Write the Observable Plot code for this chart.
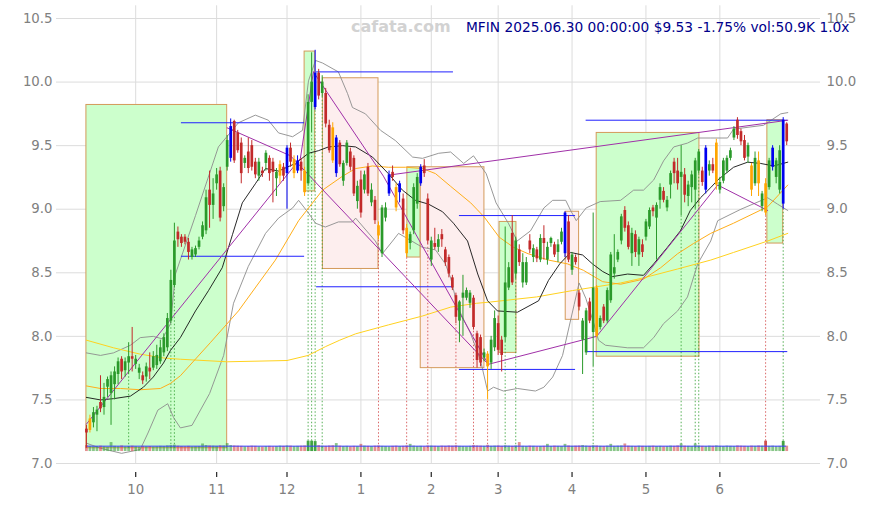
<!DOCTYPE html>
<html><head><meta charset="utf-8">
<script src="https://cdn.jsdelivr.net/npm/d3@7"></script>
<script src="https://cdn.jsdelivr.net/npm/@observablehq/plot@0.6"></script>
<style>
body{margin:0;background:#fff;}
#wrap{width:875px;height:505px;}
svg{font-family:"DejaVu Sans",sans-serif;}
</style></head><body><div id="wrap"></div>
<script>
// ---- candles (trading-day index 0 = 2024-09-11 ... 199 = 2025-06-30)
const OPEN=[7.27,7.26,7.32,7.38,7.48,7.44,7.60,7.55,7.62,7.70,7.82,7.73,7.79,7.84,7.78,7.71,7.69,7.68,7.75,7.75,
7.77,7.80,7.87,7.91,8.12,8.40,8.82,8.78,8.78,8.74,8.62,8.64,8.70,8.78,8.83,9.15,9.03,9.20,9.30,9.02,
9.33,9.40,9.69,9.60,9.52,9.36,9.45,9.50,9.37,9.26,9.30,9.36,9.40,9.37,9.24,9.26,9.33,9.28,9.48,9.28,
9.30,9.37,9.30,9.20,9.84,9.80,10.07,9.91,9.91,9.66,9.64,9.28,9.52,9.22,9.36,9.45,9.40,9.06,9.23,9.15,
9.33,9.05,9.07,8.87,8.65,8.93,9.12,9.29,9.17,9.13,9.08,8.85,8.73,8.83,9.04,9.20,9.34,9.08,8.60,8.73,
8.70,8.80,8.68,8.62,8.46,8.32,8.12,8.30,8.30,8.26,8.30,8.02,7.99,7.83,7.86,7.79,7.91,8.10,7.97,7.99,
8.38,8.81,8.49,8.68,8.42,8.42,8.75,8.62,8.68,8.60,8.77,8.60,8.73,8.72,8.66,8.74,8.65,8.90,8.52,8.62,
8.34,7.97,7.87,8.27,8.03,8.38,8.07,8.23,8.12,8.28,8.49,8.60,8.75,8.99,8.87,8.65,8.80,8.64,8.72,8.78,
8.86,9.01,8.93,9.07,9.14,9.01,9.19,9.37,9.30,9.25,9.27,9.10,9.17,9.15,9.30,9.30,9.15,9.30,9.35,9.19,
9.15,9.22,9.30,9.40,9.56,9.70,9.61,9.54,9.41,9.34,9.20,9.38,9.02,9.20,9.17,9.33,9.25,9.15,9.04,9.67];
const HIGH=[7.30,7.38,7.44,7.45,7.69,7.63,7.68,7.72,7.76,7.83,7.84,7.83,7.95,8.07,7.85,7.78,7.72,7.79,7.87,7.88,
7.93,7.97,8.02,8.18,8.52,8.89,8.86,8.80,8.80,8.77,8.70,8.71,8.78,8.90,9.15,9.30,9.24,9.32,9.33,9.20,
9.58,9.71,9.70,9.62,9.56,9.42,9.56,9.54,9.40,9.40,9.33,9.46,9.42,9.40,9.32,9.38,9.36,9.50,9.52,9.42,
9.42,9.40,9.33,9.90,10.23,10.25,10.10,10.05,9.95,9.70,9.68,9.58,9.54,9.38,9.54,9.48,9.42,9.22,9.30,9.30,
9.36,9.20,9.10,8.90,9.03,9.05,9.30,9.34,9.20,9.22,9.12,8.88,8.82,9.20,9.28,9.35,9.39,9.12,8.78,8.85,
8.80,8.84,8.70,8.64,8.48,8.34,8.28,8.48,8.38,8.36,8.32,8.04,8.01,7.90,7.88,8.00,8.20,8.16,8.00,8.86,
8.58,8.95,8.78,8.72,8.65,8.62,8.80,8.72,8.70,8.80,8.87,8.74,8.78,8.74,8.76,8.85,8.98,8.95,8.66,8.64,
8.36,8.14,8.22,8.30,8.97,8.40,8.16,8.25,8.38,8.66,8.80,8.68,8.96,9.02,8.90,8.85,8.83,8.78,8.76,8.92,
9.01,9.03,9.05,9.20,9.17,9.10,9.30,9.40,9.40,9.50,9.32,9.22,9.30,9.40,9.47,9.33,9.50,9.38,9.40,9.55,
9.25,9.40,9.42,9.48,9.65,9.72,9.63,9.58,9.52,9.36,9.45,9.45,9.14,9.24,9.40,9.50,9.40,9.50,9.72,9.68];
const LOW=[7.12,7.24,7.28,7.25,7.40,7.38,7.52,7.30,7.50,7.62,7.66,7.68,7.70,7.72,7.74,7.66,7.62,7.64,7.66,7.73,
7.74,7.78,7.84,7.88,8.10,8.38,8.70,8.70,8.72,8.60,8.60,8.62,8.68,8.76,8.80,8.85,8.92,9.15,8.90,8.98,
9.30,9.37,9.36,9.44,9.20,9.32,9.28,9.30,9.24,9.22,9.25,9.30,9.22,9.05,9.10,9.20,9.22,9.00,9.33,9.24,
9.28,9.22,9.10,9.18,9.60,9.78,9.86,9.88,9.64,9.44,9.36,9.25,9.33,9.18,9.34,9.30,9.10,9.00,8.93,9.12,
9.10,9.02,8.88,8.76,8.62,8.90,9.10,9.22,8.98,9.05,8.80,8.62,8.68,8.80,9.00,9.18,9.25,8.72,8.55,8.68,
8.66,8.70,8.55,8.46,8.36,8.10,7.95,8.00,8.28,8.22,8.05,7.75,7.76,7.80,7.50,7.74,7.88,7.85,7.72,7.95,
8.36,8.40,8.45,8.55,8.38,8.40,8.65,8.58,8.58,8.58,8.60,8.56,8.70,8.62,8.58,8.72,8.62,8.58,8.48,8.56,
8.20,7.70,7.85,8.10,7.76,7.99,8.05,8.10,8.10,8.26,8.45,8.58,8.72,8.82,8.68,8.55,8.62,8.55,8.62,8.75,
8.84,8.94,8.60,9.00,9.05,8.98,9.08,9.20,9.15,8.95,9.05,9.02,9.05,9.00,9.28,9.18,9.12,9.26,9.28,9.15,
9.12,9.20,9.28,9.38,9.54,9.55,9.50,9.38,9.36,9.10,9.18,9.10,8.98,8.95,9.15,9.30,9.20,9.12,9.00,9.50];
const CLOSE=[7.24,7.35,7.40,7.42,7.43,7.52,7.66,7.69,7.72,7.80,7.72,7.80,7.84,7.82,7.82,7.75,7.65,7.76,7.72,7.84,
7.85,7.91,7.99,8.14,8.44,8.75,8.76,8.73,8.74,8.66,8.68,8.69,8.75,8.87,9.09,9.03,9.12,9.27,8.93,9.17,
9.54,9.65,9.38,9.46,9.28,9.40,9.32,9.33,9.27,9.37,9.28,9.44,9.28,9.29,9.29,9.35,9.26,9.48,9.37,9.39,
9.38,9.30,9.13,9.84,10.00,10.07,9.89,10.00,9.67,9.46,9.38,9.56,9.35,9.36,9.52,9.33,9.12,9.18,8.97,9.27,
9.12,9.15,8.91,8.79,9.01,9.01,9.27,9.25,9.01,9.20,8.83,8.65,8.80,9.17,9.25,9.33,9.28,8.75,8.75,8.70,
8.76,8.76,8.58,8.49,8.38,8.15,8.27,8.34,8.36,8.34,8.07,7.81,7.79,7.87,7.76,7.97,8.14,7.89,7.85,8.42,
8.54,8.42,8.75,8.58,8.58,8.58,8.68,8.69,8.61,8.77,8.73,8.70,8.77,8.64,8.72,8.82,8.97,8.60,8.64,8.58,
8.23,8.12,8.20,8.12,8.38,8.00,8.14,8.12,8.36,8.64,8.54,8.66,8.94,8.85,8.70,8.81,8.66,8.76,8.66,8.90,
8.99,8.98,9.03,9.17,9.07,9.07,9.28,9.28,9.20,9.29,9.11,9.19,9.27,9.38,9.45,9.21,9.48,9.35,9.30,9.52,
9.21,9.38,9.40,9.46,9.63,9.58,9.53,9.40,9.50,9.15,9.40,9.20,9.12,8.97,9.38,9.48,9.38,9.46,9.70,9.53];
const KIND=("r o g g r g g g g g r g g r g g r g r g "+
"g g g g g g r r r r g g g g g r g g r g "+
"g b r r r g r r r g r g r r g o r b r o "+
"b r o g g b r g r r o b r g g r r g r g "+
"r g r o g g b r o b r o g g g b r r g r "+
"g r r r r r g g g g r r r g o g g r r g "+
"g r g r g g r g r g r g g r g g b r g r "+
"r g g r g o g r g g g g g r r g r g r g "+
"g r g g r g g r r g r g g g g r b g r o "+
"g g g g g r r r g o g o g o g b g g b r").trim().split(/\s+/);
const VOLUME=[30,26,24,25,27,24,22,45,26,24,28,23,25,27,24,22,26,24,25,23,
24,26,25,28,30,32,27,25,24,26,23,24,25,38,30,28,27,26,29,28,
40,30,28,27,26,24,25,27,26,24,23,25,26,24,25,27,26,28,27,25,
26,27,28,52,52,50,30,27,26,28,29,40,27,25,26,24,26,25,36,27,
26,25,27,28,26,25,24,26,27,25,26,28,36,27,25,26,24,28,27,26,
25,27,26,28,27,29,26,25,24,26,30,28,27,26,31,26,27,28,26,29,
27,26,28,45,26,25,27,26,24,25,26,36,25,27,26,25,36,28,26,27,
28,30,27,26,29,28,26,25,27,36,26,27,28,38,27,26,25,27,26,25,
26,27,25,26,24,25,27,26,28,38,27,26,25,38,28,26,25,27,26,28,
26,25,27,26,25,28,27,26,25,27,26,28,27,52,26,27,25,26,51,27];
const VOLUME_AVG=27;

// ---- axis ticks
const MONTH_IDX=[14,37,57,78,98,117,138,159,180];
const MONTH_LABELS=["10","11","12","1","2","3","4","5","6"];
const PRICE_TICKS=[7.0,7.5,8.0,8.5,9.0,9.5,10.0,10.5];

// ---- indicator lines (index, value)
const MA_BLACK_I=[0,4,7.7,12.5,16.2,19,21.9,23.9,26.7,31,34.7,38.6,41.5,44.3,48,50.9,54.6,59.4,63.1,65.9,68.8,72.8,76.5,81.3,85.8,89.8,93.5,97.2,101.2,104.3,108.3,111.2,114,116.8,122.5,128.5,131.3,134.5,137.6,141,143.8,146.7,149.5,153.8,158.3,161.2,165.1,168.8,171.6,174.5,177.4,179.4,183.9,187.9,191.6,195.3,199.3];
const MA_BLACK_V=[7.52,7.50,7.51,7.53,7.60,7.68,7.79,7.89,7.99,8.20,8.36,8.54,8.80,9.05,9.20,9.32,9.30,9.36,9.44,9.46,9.49,9.50,9.49,9.41,9.28,9.15,9.07,9.04,8.98,8.89,8.75,8.49,8.28,8.20,8.19,8.28,8.44,8.57,8.66,8.64,8.57,8.51,8.47,8.49,8.48,8.57,8.70,8.83,8.99,9.09,9.17,9.23,9.33,9.37,9.36,9.34,9.37];
const MA_ORANGE_I=[0,4,9.7,15.3,21,23.9,26.7,35.2,43.2,53.7,60.3,67.1,72.8,76.5,81.3,85.8,90.7,95.5,99.2,103.5,109.2,113,117.3,121.4,125.5,131.3,136.7,141.2,146.7,151.8,158.3,163.2,168,172.5,177.4,183.9,193.6,199.3];
const MA_ORANGE_V=[7.61,7.59,7.59,7.58,7.59,7.63,7.69,7.95,8.20,8.60,8.91,9.15,9.26,9.32,9.34,9.33,9.33,9.32,9.28,9.18,9.05,8.94,8.78,8.70,8.65,8.60,8.57,8.52,8.43,8.41,8.45,8.54,8.65,8.73,8.81,8.89,9.02,9.19];
const MA_YELLOW_I=[0,7.7,15.3,21.9,26.7,40,57,63,68,72,76.5,85.8,95.5,103.5,110.8,114.8,127.9,138.1,151.8,158.3,168,177.4,183.9,193.6,199.3];
const MA_YELLOW_V=[7.97,7.91,7.86,7.83,7.82,7.80,7.81,7.85,7.92,7.97,8.02,8.09,8.16,8.23,8.26,8.27,8.31,8.36,8.42,8.46,8.53,8.60,8.66,8.75,8.81];
const BB_UP_I=[0,4,7.7,12.5,15.3,19,21.6,23.9,25.3,31,37.5,43.2,48,51.7,54.6,58.6,61.4,63.1,65.1,67.1,71.6,74.2,75.6,79.3,83.6,87.8,92.7,95.5,100.1,103.5,107.2,110,113.6,116.4,119.9,122.4,126.2,130,132.5,136.2,137.6,139.2,142,146,151.8,155.5,158.3,161.2,164,166.9,170.8,173.7,177.4,182.2,183.9,192.4,197.3,199.3];
const BB_UP_V=[7.87,7.85,7.87,7.93,7.99,8.00,7.98,8.10,8.49,8.95,9.49,9.68,9.74,9.70,9.60,9.57,9.62,10.01,10.17,10.15,10.08,9.91,9.80,9.75,9.62,9.54,9.41,9.40,9.44,9.45,9.36,9.42,9.28,9.05,8.89,8.75,8.83,9.01,9.07,9.07,8.99,8.91,9.01,9.06,9.07,9.15,9.15,9.23,9.38,9.49,9.52,9.56,9.56,9.56,9.63,9.66,9.75,9.76];
const BB_LO_I=[0,4,10,15.3,17.5,20.3,23.1,24.8,26.7,30,35,39,41.8,46,50.9,54.6,58.6,60.3,63.1,65.1,67.9,71.6,75.6,76.5,82.1,84.1,87,88.7,95.5,99.2,102,103.5,105.5,109.2,112,114,115.7,118.5,122.5,127.6,130,132.5,135.3,138.6,140,141.9,144.2,145.5,147.5,153.8,158.3,161.2,164,168,170.8,173.7,177.4,179.4,186,193.6,196.4,199.3];
const BB_LO_V=[7.16,7.12,7.08,7.11,7.24,7.42,7.47,7.36,7.28,7.30,7.55,7.85,8.26,8.55,8.81,8.93,9.01,9.07,8.97,8.89,8.86,8.90,8.90,8.93,8.75,8.65,8.75,8.81,8.70,8.68,8.57,8.46,8.23,8.02,7.81,7.57,7.60,7.57,7.59,7.57,7.60,7.68,7.85,8.25,8.42,8.30,8.10,7.97,7.93,7.91,7.91,7.99,8.10,8.20,8.31,8.57,8.75,8.91,9.00,9.09,9.04,8.99];

// ---- boxes
const BOX_I1=[0,62,67.2,91.2,95,117.4,136.2,145,193.5];
const BOX_I2=[40,65,83,95,113.1,122.2,140,174.2,198];
const BOX_TOP=[9.82,10.24,10.03,9.33,9.33,8.90,8.98,9.60,9.70];
const BOX_BOT=[7.12,9.14,8.53,8.62,7.75,7.87,8.13,7.84,8.73];
const BOX_KIND=["up","up","down","up","down","up","down","up","up"];

// ---- horizontal level lines
const LEVEL_I1=[27,27,65.4,65.4,106,106,142,142];
const LEVEL_I2=[62,62,104.3,104.3,139,139,199.3,199.3];
const LEVEL_V=[9.68,8.63,10.08,8.39,8.95,7.74,9.70,7.88];

// ---- purple trend lines (polylines: index, value)
const TREND_LINES=[
  {i:[0,60.8,64.5], v:[7.31,9.40,10.08]},
  {i:[40,58,114.2], v:[9.64,9.42,7.78]},
  {i:[64.5,84.4,114.2], v:[10.08,9.26,7.78]},
  {i:[114.2,145,174.5,179.4,193.6], v:[7.78,8.00,9.02,9.19,8.99]},
  {i:[86.4,199.3], v:[9.27,9.70]}
];

// ---- signal markers (dotted verticals)
const SIGNAL_IDX=[12,24,25,63,64,65,67,83,91,97,105,110,114,119,122,144,169,173,174,193,198];
const SIGNAL_KIND=["up","up","up","up","up","up","up","down","down","down","down","down","down","up","up","up","up","up","up","down","up"];

// ===== build
const N=CLOSE.length;
const candles=d3.range(N).map(i=>({i,o:OPEN[i],h:HIGH[i],l:LOW[i],c:CLOSE[i],k:KIND[i],v:VOLUME[i]}));
const COL={g:"#2a9a2a",r:"#c22a2a",b:"#0000f0",o:"#ffa500"};
const VOL_BASE=7.094, VOL_SCALE=0.00157;
const boxes=BOX_I1.map((d,j)=>({x1:d,x2:BOX_I2[j],y1:BOX_BOT[j],y2:BOX_TOP[j],k:BOX_KIND[j]}));
const levels=LEVEL_I1.map((d,j)=>({x1:d,x2:LEVEL_I2[j],y:LEVEL_V[j]}));
const toPts=(I,V)=>I.map((d,j)=>({i:d,v:V[j]}));
const trendMarks=TREND_LINES.map(t=>Plot.line(toPts(t.i,t.v),{x:"i",y:"v",stroke:"#a030a8",strokeWidth:1}));
const signals=SIGNAL_IDX.map((d,j)=>({i:d,top:LOW[d],k:SIGNAL_KIND[j]}));
const labelOf=new Map(MONTH_IDX.map((d,j)=>[d,MONTH_LABELS[j]]));

const chart=Plot.plot({
  width:875,height:505,
  marginLeft:56,marginRight:55,marginTop:18,marginBottom:42,
  x:{domain:[-8.5,208.6],axis:null},
  y:{domain:[7.0,10.5],axis:null},
  marks:[
    Plot.ruleY(PRICE_TICKS,{stroke:"#dcdcdc",strokeWidth:1}),
    Plot.ruleX(MONTH_IDX,{y1:7.0,y2:10.6,stroke:"#dcdcdc",strokeWidth:1}),
    Plot.rect(boxes,{x1:"x1",x2:"x2",y1:"y1",y2:"y2",
      fill:d=>d.k==="up"?"#ccffcc":"#fdeeee",
      stroke:"#d49a5a",strokeWidth:1}),
    Plot.ruleX(signals,{x:"i",y1:7.12,y2:"top",stroke:d=>d.k==="up"?"#2a9a2a":"#d04040",strokeWidth:0.8,strokeDasharray:"1.5,2"}),
    Plot.line(toPts(BB_UP_I,BB_UP_V),{x:"i",y:"v",stroke:"#8c8c8c",strokeWidth:0.9}),
    Plot.line(toPts(BB_LO_I,BB_LO_V),{x:"i",y:"v",stroke:"#8c8c8c",strokeWidth:0.9}),
    Plot.line(toPts(MA_YELLOW_I,MA_YELLOW_V),{x:"i",y:"v",stroke:"#ffd21f",strokeWidth:1}),
    Plot.line(toPts(MA_ORANGE_I,MA_ORANGE_V),{x:"i",y:"v",stroke:"#ffae1a",strokeWidth:1}),
    Plot.line(toPts(MA_BLACK_I,MA_BLACK_V),{x:"i",y:"v",stroke:"#111",strokeWidth:0.9}),
    Plot.ruleY(levels,{x1:"x1",x2:"x2",y:"y",stroke:"#2020ff",strokeWidth:1}),
    ...trendMarks,
    // volume
    Plot.ruleX(candles,{x:"i",y1:VOL_BASE,y2:d=>VOL_BASE+d.v*VOL_SCALE,
      stroke:d=>d.c>=d.o?"#3aa03a":"#d04848",strokeOpacity:d=>d.v>45?0.95:0.6,strokeWidth:2.8}),
    Plot.ruleY([VOL_BASE+VOLUME_AVG*VOL_SCALE],{x1:0,x2:N-1,stroke:"#3c3cff",strokeWidth:1}),
    // candles
    Plot.ruleX(candles,{x:"i",y1:"l",y2:"h",stroke:d=>COL[d.k],strokeWidth:1}),
    Plot.ruleX(candles,{x:"i",y1:"o",y2:"c",stroke:d=>COL[d.k],strokeWidth:2.7}),
    // axes
    Plot.axisY(PRICE_TICKS,{anchor:"left",tickSize:0,tickPadding:4,tickFormat:d3.format(".1f"),fontSize:13.3,fill:"#808080"}),
    Plot.axisY(PRICE_TICKS,{anchor:"right",tickSize:0,tickPadding:6,tickFormat:d3.format(".1f"),fontSize:13.3,fill:"#808080"}),
    Plot.axisX(MONTH_IDX,{anchor:"bottom",tickSize:5,tickPadding:7,dy:9,tickFormat:d=>labelOf.get(d),fontSize:13.3,fill:"#808080",stroke:"#333",strokeWidth:1.3})
  ]
});
document.getElementById("wrap").appendChild(chart);
const svg=d3.select(chart);
svg.append("text").attr("x",351).attr("y",31.5).attr("text-anchor","start").attr("font-family","DejaVu Sans").attr("font-weight","bold")
  .attr("font-size",16).attr("fill","#d2d2d2").text("cafata.com");
svg.append("text").attr("x",466).attr("y",31.5).attr("text-anchor","start").attr("font-family","DejaVu Sans")
  .attr("font-size",13.75).attr("fill","#00008b").text("MFIN 2025.06.30 00:00:00 $9.53 -1.75% vol:50.9K 1.0x");
</script></body></html>
